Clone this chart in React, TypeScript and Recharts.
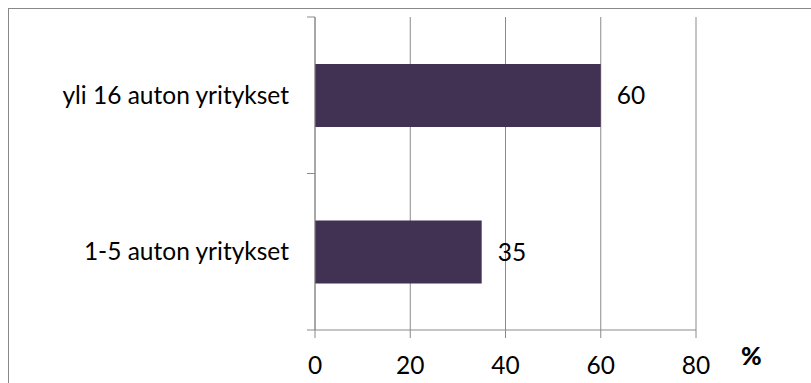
import { BarChart, Bar, XAxis, YAxis, CartesianGrid, LabelList, Label } from 'recharts';

const categories = ['yli 16 auton yritykset', '1-5 auton yritykset'];
const shares = [60, 35];
const xTicks = [0, 20, 40, 60, 80];
const unitLabel = '%';

const data = categories.map((name, i) => ({ name, value: shares[i] }));

const W = 811;
const H = 383;
const MARGIN = { top: 17, right: 115, bottom: 0, left: 15 };
const X_AXIS_H = 53;
const FONT = 'Lato, "Open Sans", sans-serif';
const FS = 24.5;
const GRID = '#8a8a8a';

const plotH = H - MARGIN.top - MARGIN.bottom - X_AXIS_H;
const bandHalf = plotH / categories.length / 2;

const CategoryTick = ({ x, y, payload }: any) => {
  // tick marks sit on the band edges, text at the band centre
  const lx = x + 18;
  return (
    <g>
      <line x1={lx} x2={lx + 8} y1={y - bandHalf} y2={y - bandHalf} stroke={GRID} />
      <line x1={lx} x2={lx + 8} y1={y + bandHalf} y2={y + bandHalf} stroke={GRID} />
      <text x={x} y={y} dy="0.35em" textAnchor="end" fontSize={FS} fontFamily={FONT} fill="#000">
        {payload.value}
      </text>
    </g>
  );
};

const UnitLabel = ({ viewBox }: any) => {
  const { x, y, width, height } = viewBox;
  return (
    <text
      x={x + width + 45}
      y={y + height / 2}
      dy="0.35em"
      fontSize={25}
      fontWeight={900}
      fontFamily={FONT}
      fill="#000"
    >
      {unitLabel}
    </text>
  );
};

export default function App() {
  return (
    <div style={{ position: 'absolute', left: 0, top: 0, width: W, height: H, overflow: 'hidden', background: '#fff' }}>
      <div
        style={{
          position: 'absolute',
          left: 8,
          top: 8,
          width: W - 8,
          height: H - 8,
          borderTop: '1px solid #888',
          borderLeft: '1px solid #888',
          boxSizing: 'border-box',
        }}
      />
      <div style={{ position: 'absolute', left: 0, top: 0 }}>
        <BarChart width={W} height={H} data={data} layout="vertical" margin={MARGIN} barCategoryGap="30%">
          <CartesianGrid horizontal={false} stroke={GRID} />
          <XAxis
            type="number"
            domain={[0, 80]}
            ticks={xTicks}
            height={X_AXIS_H}
            stroke={GRID}
            tickSize={8}
            tickMargin={19}
            tick={{ fill: '#000', fontSize: FS, fontFamily: FONT }}
          >
            <Label content={<UnitLabel />} />
          </XAxis>
          <YAxis
            type="category"
            dataKey="name"
            width={300}
            stroke={GRID}
            tickLine={false}
            tickSize={8}
            tickMargin={18}
            tick={<CategoryTick />}
          />
          <Bar dataKey="value" fill="#413152" isAnimationActive={false}>
            <LabelList dataKey="value" position="right" offset={16} fill="#000" fontSize={FS} fontFamily={FONT} />
          </Bar>
        </BarChart>
      </div>
    </div>
  );
}
